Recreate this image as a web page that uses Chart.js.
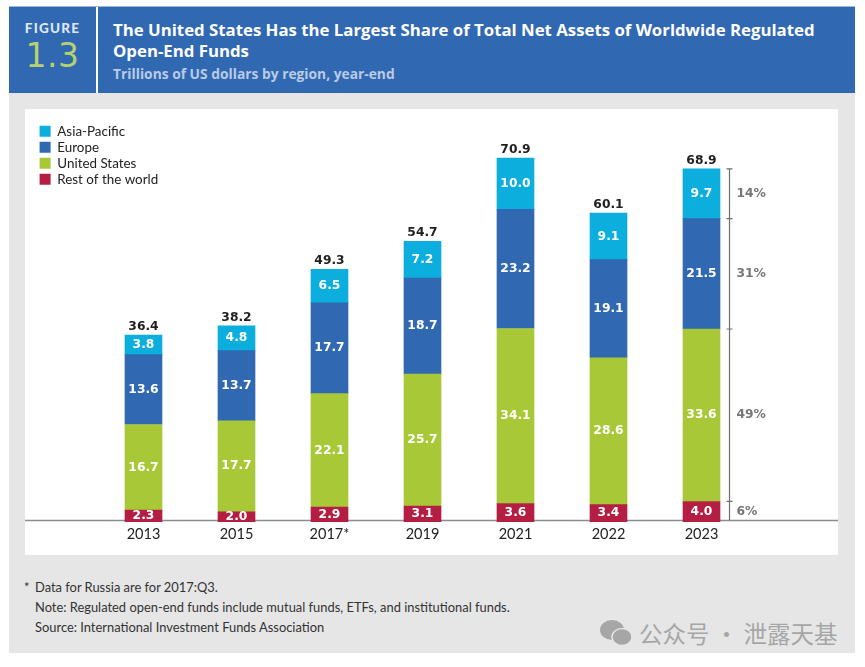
<!DOCTYPE html>
<html>
<head>
<meta charset="utf-8">
<title>Figure 1.3</title>
<script src="https://cdn.jsdelivr.net/npm/chart.js@4"></script>
<style>
    html, body { margin: 0; padding: 0; background: #fff; }
    body { width: 865px; height: 667px; position: relative; overflow: hidden; font-family: Lato, sans-serif; }
    .abs { position: absolute; white-space: nowrap; }
    #panel { left: 9px; top: 93px; width: 846px; height: 560px; background: #e6e6e6; }
    #header { left: 9px; top: 6px; width: 846px; height: 87px; background: #3168b2; border-top: 1px solid #9db6da; box-sizing: border-box; }
    #divider { left: 96px; top: 7px; width: 2px; height: 86px; background: #fff; }
    #figure { left: 9px; width: 87px; top: 20px; text-align: center; color: #dfe8f4; font: 900 13.5px Lato, sans-serif; letter-spacing: 1.2px; }
    #number { left: 9px; width: 87px; top: 36px; text-align: center; color: #b7d070; font: 400 33px "DejaVu Sans", sans-serif; letter-spacing: 0.5px; }
    #title { left: 113px; top: 19px; color: #fff; font: 700 16.8px/21px "Open Sans", sans-serif; }
    #subtitle { left: 113px; top: 64px; color: #b9cbe6; font: 700 13.8px "Open Sans", sans-serif; }
    #white { left: 25px; top: 109px; width: 813px; height: 446px; background: #fff; }
    canvas { position: absolute; left: 25px; top: 109px; }
    .note { color: #333; font: 400 12.9px Lato, sans-serif; }
    #mark { left: 639px; top: 616px; color: #a6a6a6; font: 400 23.5px "Noto Sans CJK SC", sans-serif; }
    #wechat { left: 599px; top: 619px; }
</style>
</head>
<body>
<div class="abs" id="panel"></div>
<div class="abs" id="header"></div>
<div class="abs" id="divider"></div>
<div class="abs" id="figure">FIGURE</div>
<div class="abs" id="number">1.3</div>
<div class="abs" id="title">The United States Has the Largest Share of Total Net Assets of Worldwide Regulated<br>Open-End Funds</div>
<div class="abs" id="subtitle">Trillions of US dollars by region, year-end</div>
<div class="abs" id="white"></div>
<canvas id="chart" width="813" height="446"></canvas>
<div class="abs note" style="left:24px;top:579px">*</div>
<div class="abs note" style="left:35px;top:579px">Data for Russia are for 2017:Q3.</div>
<div class="abs note" style="left:35px;top:599px">Note: Regulated open-end funds include mutual funds, ETFs, and institutional funds.</div>
<div class="abs note" style="left:35px;top:619px">Source: International Investment Funds Association</div>
<svg class="abs" id="wechat" width="34" height="28" viewBox="0 0 34 28">
    <ellipse cx="13" cy="11" rx="12" ry="10" fill="#a6a6a6"/>
    <ellipse cx="23" cy="18" rx="10" ry="8.5" fill="#a6a6a6" stroke="#e6e6e6" stroke-width="1.5"/>
</svg>
<div class="abs" id="mark">公众号 · 泄露天基</div>

<script>
const years = ["2013", "2015", "2017*", "2019", "2021", "2022", "2023"];
const restOfWorld = [2.3, 2.0, 2.9, 3.1, 3.6, 3.4, 4.0];
const unitedStates = [16.7, 17.7, 22.1, 25.7, 34.1, 28.6, 33.6];
const europe = [13.6, 13.7, 17.7, 18.7, 23.2, 19.1, 21.5];
const asiaPacific = [3.8, 4.8, 6.5, 7.2, 10.0, 9.1, 9.7];
const totals = ["36.4", "38.2", "49.3", "54.7", "70.9", "60.1", "68.9"];
// shares of the last bar, bottom to top
const shares2023 = ["6%", "49%", "31%", "14%"];

const labelFont = "700 12.3px 'DejaVu Sans', sans-serif";

// legend sits in the white panel, away from the plot area
const legendPlacer = {
    id: "legendPlacer",
    afterLayout(chart) {
        const legend = chart.legend;
        legend.left = 12;
        legend.top = 13;
        legend.right = legend.left + legend.width;
        legend.bottom = legend.top + legend.height;
    }
};

const baseline = {
    id: "baseline",
    beforeDatasetsDraw(chart) {
        const ctx = chart.ctx;
        const y = chart.chartArea.bottom - 1.5;
        ctx.save();
        ctx.strokeStyle = "#8c8c8c";
        ctx.lineWidth = 1.5;
        ctx.beginPath();
        ctx.moveTo(0, y);
        ctx.lineTo(chart.width, y);
        ctx.stroke();
        ctx.restore();
    }
};

const barLabels = {
    id: "barLabels",
    afterDatasetsDraw(chart) {
        const ctx = chart.ctx;
        ctx.save();
        ctx.font = labelFont;
        ctx.textAlign = "center";
        ctx.textBaseline = "middle";
        ctx.fillStyle = "#fff";
        chart.data.datasets.forEach((ds, i) => {
            chart.getDatasetMeta(i).data.forEach((bar, j) => {
                ctx.fillText(ds.data[j].toFixed(1), bar.x, (bar.y + bar.base) / 2);
            });
        });
        const top = chart.getDatasetMeta(chart.data.datasets.length - 1).data;
        ctx.fillStyle = "#1f1f1f";
        ctx.textBaseline = "bottom";
        top.forEach((bar, j) => ctx.fillText(totals[j], bar.x, bar.y - 2));
        ctx.restore();
    }
};

// bracket to the right of the last bar, with the regional shares
const shareBracket = {
    id: "shareBracket",
    afterDatasetsDraw(chart) {
        const ctx = chart.ctx;
        const last = years.length - 1;
        const bars = chart.data.datasets.map((ds, i) => chart.getDatasetMeta(i).data[last]);
        const x = bars[0].x + 28;
        ctx.save();
        ctx.strokeStyle = "#6e6e6e";
        ctx.fillStyle = "#767676";
        ctx.lineWidth = 1.2;
        ctx.beginPath();
        ctx.moveTo(x, bars[3].y);
        ctx.lineTo(x, chart.chartArea.bottom - 2);
        bars.forEach(bar => {
            ctx.moveTo(x - 3, bar.y);
            ctx.lineTo(x + 3, bar.y);
        });
        ctx.stroke();
        ctx.font = labelFont;
        ctx.textAlign = "left";
        ctx.textBaseline = "middle";
        bars.forEach((bar, i) => ctx.fillText(shares2023[i], x + 7, (bar.y + bar.base) / 2));
        ctx.restore();
    }
};

new Chart(document.getElementById("chart"), {
    type: "bar",
    data: {
        labels: years,
        datasets: [
            { label: "Rest of the world", data: restOfWorld, backgroundColor: "#b31e42" },
            { label: "United States", data: unitedStates, backgroundColor: "#a8c838" },
            { label: "Europe", data: europe, backgroundColor: "#3168b2" },
            { label: "Asia-Pacific", data: asiaPacific, backgroundColor: "#0baedc" }
        ]
    },
    options: {
        responsive: false,
        animation: false,
        barThickness: 37,
        layout: {
            padding: { left: 72, right: 90, top: 28, bottom: 0 }
        },
        plugins: {
            tooltip: { enabled: false },
            legend: {
                position: "chartArea",
                align: "start",
                reverse: true,
                labels: {
                    boxWidth: 11,
                    boxHeight: 11,
                    padding: 2.6,
                    color: "#222",
                    font: { family: "Lato", size: 13.4 }
                }
            }
        },
        scales: {
            x: {
                stacked: true,
                grid: { display: false, drawTicks: false },
                border: { display: false },
                afterFit(scale) { scale.height = 33; },
                ticks: {
                    padding: 4,
                    maxRotation: 0,
                    color: "#222",
                    font: { family: "Lato", size: 14.5 }
                }
            },
            y: {
                stacked: true,
                display: false,
                min: 0,
                max: 75
            }
        }
    },
    plugins: [legendPlacer, baseline, barLabels, shareBracket]
});
</script>
</body>
</html>
